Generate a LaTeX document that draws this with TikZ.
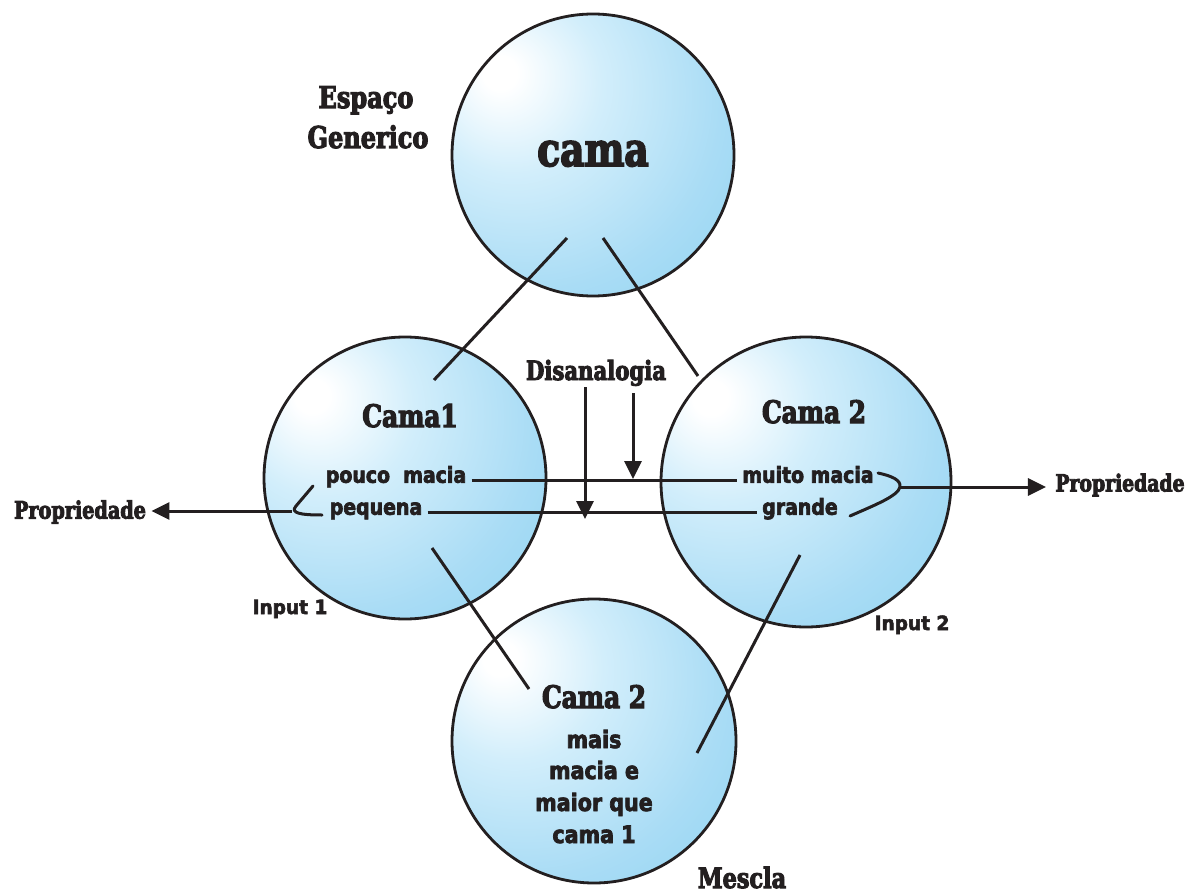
\documentclass[tikz,border=0pt]{standalone}
\usepackage{fontspec}
\usetikzlibrary{arrows.meta}
\newfontfamily\headfont[FakeStretch=0.8,FakeBold=3.5]{DejaVu Serif}
\newfontfamily\bodyfont[FakeStretch=0.86,FakeBold=3]{DejaVu Sans}
\newfontfamily\tagfont[FakeStretch=0.95,FakeBold=3]{DejaVu Sans}
\definecolor{ink}{HTML}{231F20}
\definecolor{bubA}{HTML}{D2EEFB}
\definecolor{bubB}{HTML}{A9DCF5}
\definecolor{bubC}{HTML}{8AD2F1}
\definecolor{bubD}{HTML}{7CCBEE}
\pgfdeclareradialshading{bubble}{\pgfpoint{-17bp}{15bp}}{%
  color(0bp)=(white); color(3bp)=(white); color(16bp)=(bubA);
  color(34bp)=(bubB); color(52bp)=(bubC); color(70bp)=(bubD); color(100bp)=(bubD)}
\begin{document}
\begin{tikzpicture}[x=1pt, y=-1pt, line width=3pt,
  space/.style={circle, draw=ink, line width=2.8pt, shading=bubble,
    minimum size=#1, inner sep=0pt},
  head/.style={text=ink, inner sep=0pt, anchor=base,
    font=\headfont\bfseries\fontsize{#1}{#1}\selectfont},
  body/.style={text=ink, inner sep=0pt, anchor=base,
    font=\bodyfont\bfseries\fontsize{#1}{#1}\selectfont},
  tag/.style={text=ink, inner sep=0pt, anchor=base,
    font=\tagfont\bfseries\fontsize{#1}{#1}\selectfont},
  prop/.style={text=ink, inner xsep=4pt, inner ysep=0pt,
    text height=0.75em, text depth=0.2em,
    font=\bodyfont\bfseries\fontsize{22}{22}\selectfont},
  link/.style={draw=ink, line width=3pt},
  tip/.style={draw=ink, line width=3pt, -{Triangle[length=18pt,width=17pt]}}]
\useasboundingbox (0,0) rectangle (1201,893);

% the four mental spaces
\node[space=282pt] (gen) at (593,155) {};
\node[space=282pt] (in1) at (405,478) {};
\node[space=290pt] (in2) at (806,482) {};
\node[space=284pt] (blend) at (594,741) {};

% cross-space mapping lines
\coordinate (g1) at (567,238);  \coordinate (a1) at (434,380);
\coordinate (g2) at (603,238);  \coordinate (a2) at (698,376);
\coordinate (b1) at (432,548);  \coordinate (m1) at (529,689);
\coordinate (b2) at (800,555);  \coordinate (m2) at (697,753);
\draw[link] (g1) -- (a1);
\draw[link] (g2) -- (a2);
\draw[link] (b1) -- (m1);
\draw[link] (b2) -- (m2);

% titles
\node[head=30] (esp) at (366,108) {Espaço};
\node[head=30] (genr) at (368,148) {Generico};
\node[head=47] (camag) at (593,166) {cama};
\node[head=31] (cama1) at (410,427) {Cama1};
\node[head=31] (cama2) at (814,423) {Cama 2};
\node[head=31] (cama3) at (594,708) {Cama 2};
\node[head=26.5] (dis) at (596,380) {Disanalogia};
\node[head=28] (mescla) at (742,888) {Mescla};
\node[tag=19.5] (inp1) at (290,614) {Input 1};
\node[tag=19.5] (inp2) at (912,630) {Input 2};

% blend description
\node[body=24] (d1) at (594,748) {mais};
\node[body=24] (d2) at (594,779) {macia e};
\node[body=24] (d3) at (594,811) {maior que};
\node[body=24] (d4) at (594,843) {cama 1};

% properties of the inputs
\node[prop] (pm) at (396,480) {pouco\ \ macia};
\node[prop] (pq) at (376,512) {pequena};
\node[prop] (mm) at (808,480) {muito macia};
\node[prop] (gr) at (800,512) {grande};
\draw[link] (pm.east) -- (pm.east -| mm.west);
\draw[link] (pq.east) -- (pq.east -| gr.west);

% disanalogy arrows
\coordinate (da1) at (585,387);  \coordinate (db1) at (585,519);
\coordinate (da2) at (633,393);  \coordinate (db2) at (633,479);
\draw[tip] (da1) -- (db1);
\draw[tip] (da2) -- (db2);

% property brackets and arrows
\node[head=24, anchor=center] (propl) at (80,512) {Propriedade};
\node[head=23.5, anchor=center] (propr) at (1120,485) {Propriedade};
\coordinate (lb1) at (313,486);
\coordinate (lbv) at (292,511);
\coordinate (lb2) at (322,515);
\draw[link, line cap=round] (lb1) -- (296,506) .. controls (290,513) and (300,515) .. (lb2);
\draw[tip, shorten >=4pt] (lbv) -- (propl.east |- lbv);
\coordinate (rb1) at (878,473);
\coordinate (rbv) at (900,487);
\coordinate (rb2) at (850,516);
\draw[link, line cap=round] (rb1) .. controls (892,476) and (901,480) .. (rbv)
  .. controls (898,496) and (875,505) .. (rb2);
\draw[tip, shorten >=8pt] (rbv) -- (propr.west |- rbv);
\end{tikzpicture}
\end{document}
